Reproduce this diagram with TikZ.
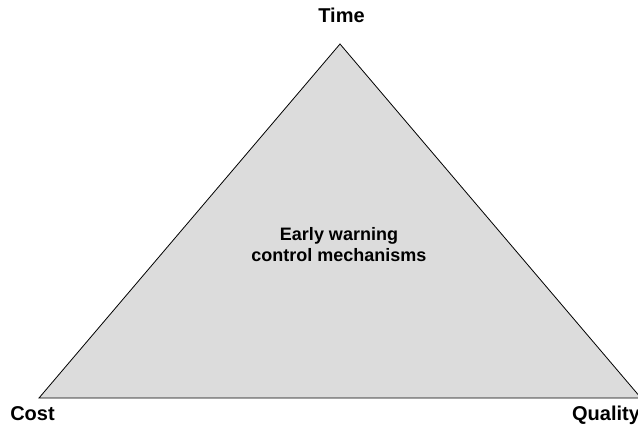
\documentclass[tikz,border=0pt]{standalone}
\usepackage{fontspec}
\setmainfont{Liberation Sans}
\begin{document}
\begin{tikzpicture}[x=1pt,y=-1pt,
  corner/.style={font=\bfseries\fontsize{20}{24}\selectfont, inner sep=0pt, anchor=base},
  inside/.style={font=\bfseries\fontsize{18}{21}\selectfont, align=center, inner sep=0pt}]
  \useasboundingbox (0,0) rectangle (638,425);
  % triangle corners
  \coordinate (top) at (340,44);
  \coordinate (left) at (39,398);
  \coordinate (right) at (641,398);
  \filldraw[fill={rgb,255:red,220;green,220;blue,220}, draw=black, line width=0.8pt, line join=miter]
    (top) -- (left) -- (right) -- cycle;
  % labels
  \node[corner] (time) at (341.5,23) {Time};
  \node[corner] (cost) at (32.5,420) {Cost};
  \node[corner] (quality) at (606,420) {Quality};
  \node[inside] (ewc) at (339,245) {Early warning\\control mechanisms};
\end{tikzpicture}
\end{document}
